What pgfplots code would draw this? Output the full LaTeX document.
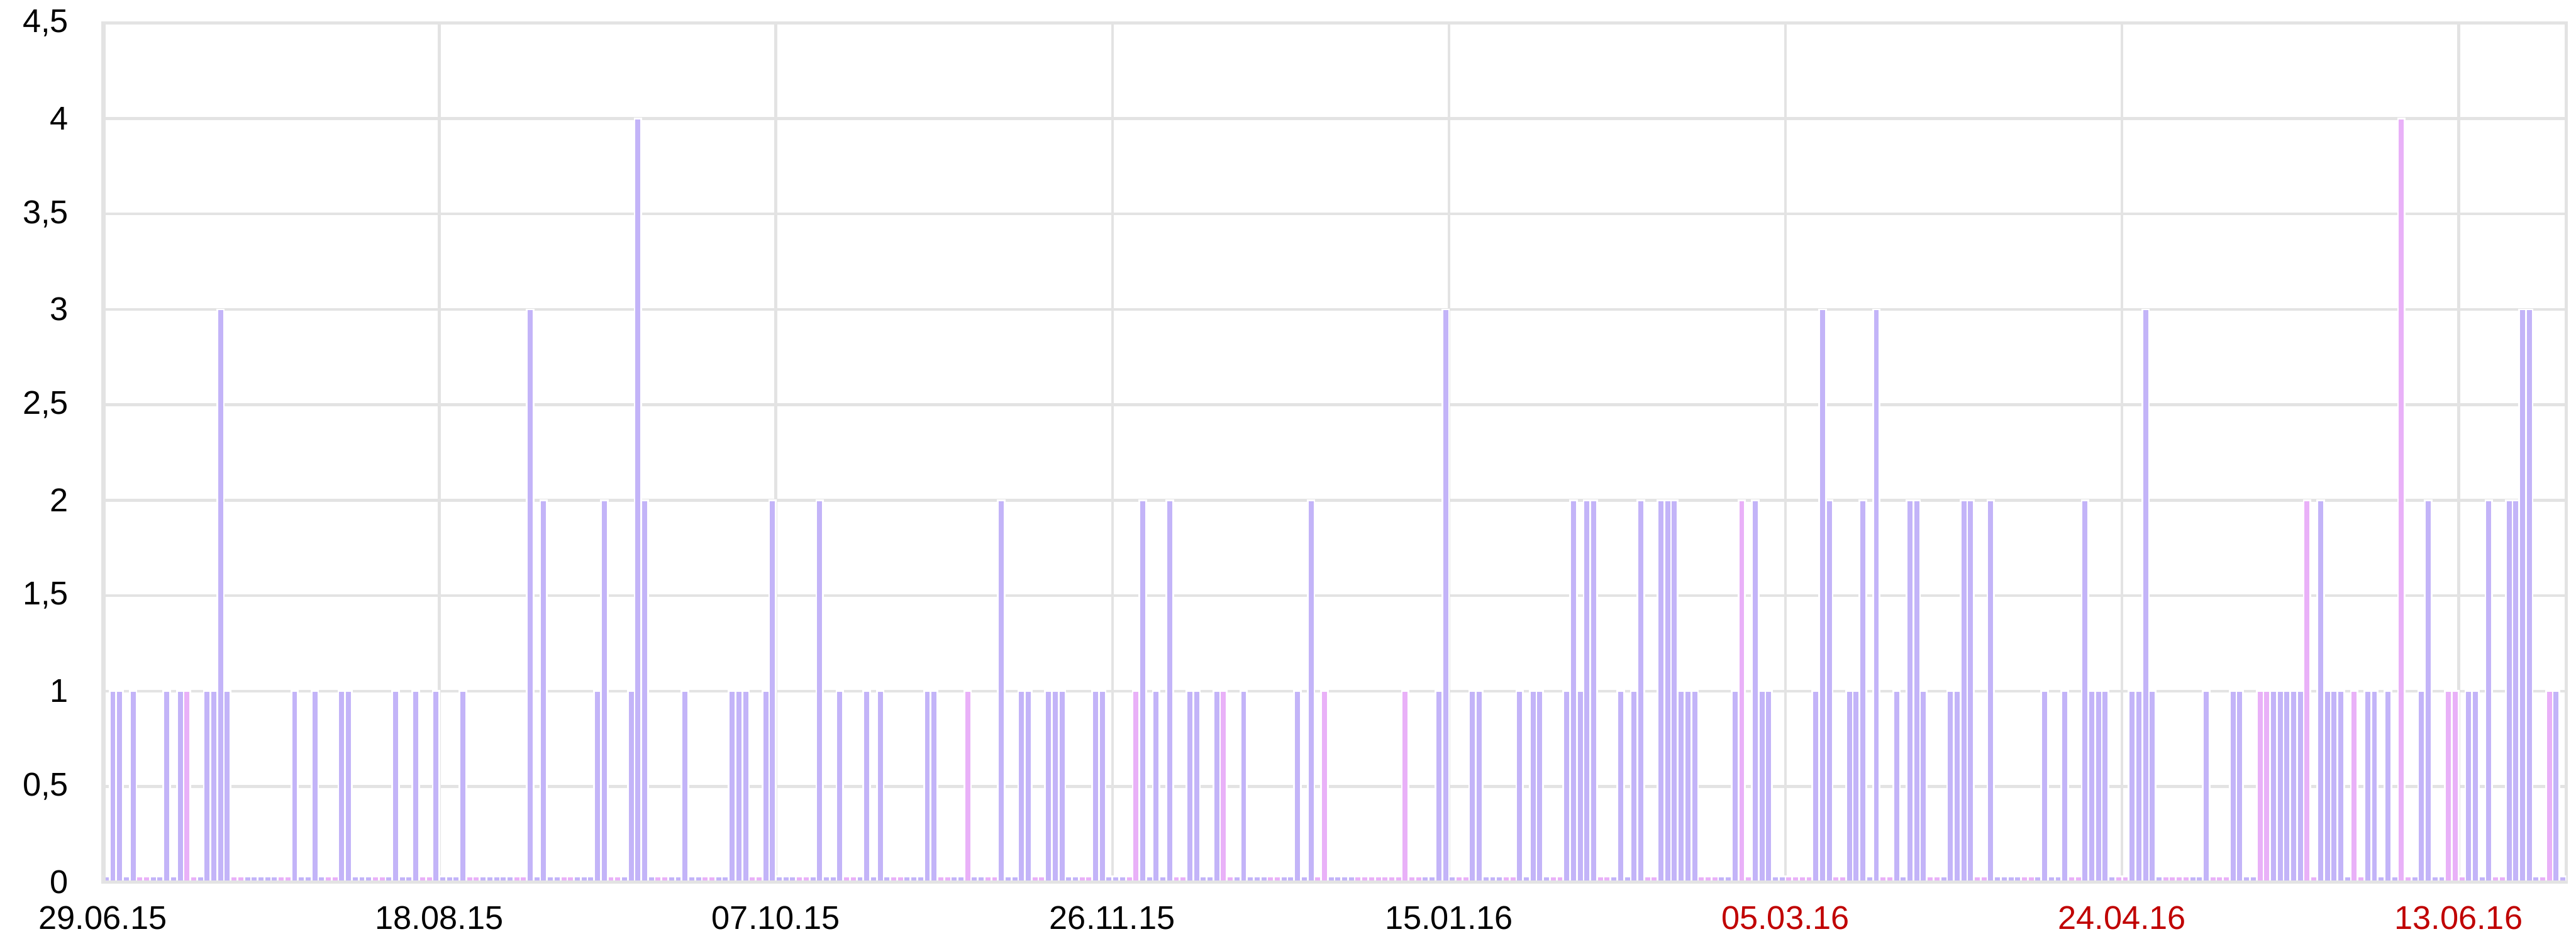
\documentclass[border=0pt]{standalone}
\usepackage{fontspec}
\setmainfont{Liberation Sans}
\usepackage{pgfplots}
\usepackage{pgfplotstable}
\pgfplotsset{compat=1.18}
\definecolor{barlav}{RGB}{195,180,248}
\definecolor{barpink}{RGB}{233,177,248}
\definecolor{gridgray}{RGB}{227,227,227}
\definecolor{tickred}{RGB}{192,0,0}

% working days: day index (0 = 29.06.15), value
\pgfplotstableread[row sep=\\]{
d v\\
0 0\\ 1 1\\ 2 1\\ 3 0\\ 4 1\\
7 0\\ 8 0\\ 9 1\\ 10 0\\ 11 1\\
14 0\\ 15 1\\ 16 1\\ 17 3\\ 18 1\\
21 0\\ 22 0\\ 23 0\\ 24 0\\ 25 0\\
28 1\\ 29 0\\ 30 0\\ 31 1\\ 32 0\\
35 1\\ 36 1\\ 37 0\\ 38 0\\ 39 0\\
42 0\\ 43 1\\ 44 0\\ 45 0\\ 46 1\\
49 1\\ 50 0\\ 51 0\\ 52 0\\ 53 1\\
56 0\\ 57 0\\ 58 0\\ 59 0\\ 60 0\\
63 3\\ 64 0\\ 65 2\\ 66 0\\ 67 0\\
70 0\\ 71 0\\ 72 0\\ 73 1\\ 74 2\\
77 0\\ 78 1\\ 79 4\\ 80 2\\ 81 0\\
84 0\\ 85 0\\ 86 1\\ 87 0\\ 88 0\\
91 0\\ 92 0\\ 93 1\\ 94 1\\ 95 1\\
98 1\\ 99 2\\ 100 0\\ 101 0\\ 102 0\\
105 0\\ 106 2\\ 107 0\\ 108 0\\ 109 1\\
112 0\\ 113 1\\ 114 0\\ 115 1\\ 116 0\\
119 0\\ 120 0\\ 121 0\\ 122 1\\ 123 1\\
126 0\\ 127 0\\ 129 0\\ 130 0\\
133 2\\ 134 0\\ 135 0\\ 136 1\\ 137 1\\
140 1\\ 141 1\\ 142 1\\ 143 0\\ 144 0\\
147 1\\ 148 1\\ 149 0\\ 150 0\\ 151 0\\
154 2\\ 155 0\\ 156 1\\ 157 0\\ 158 2\\
161 1\\ 162 1\\ 163 0\\ 164 0\\ 165 1\\
168 0\\ 169 1\\ 170 0\\ 171 0\\ 172 0\\
175 0\\ 176 0\\ 177 1\\ 178 0\\ 179 2\\
182 0\\ 183 0\\ 184 0\\ 185 0\\
196 0\\ 197 0\\ 198 1\\ 199 3\\ 200 0\\
203 1\\ 204 1\\ 205 0\\ 206 0\\ 207 0\\
210 1\\ 211 0\\ 212 1\\ 213 1\\ 214 0\\
217 1\\ 218 2\\ 219 1\\ 220 2\\ 221 2\\
224 0\\ 225 1\\ 226 0\\ 227 1\\ 228 2\\
231 2\\ 232 2\\ 233 2\\ 234 1\\ 235 1\\ 236 1\\
240 0\\ 241 0\\ 242 1\\
245 2\\ 246 1\\ 247 1\\ 248 0\\ 249 0\\
254 1\\ 255 3\\ 256 2\\
259 1\\ 260 1\\ 261 2\\ 262 0\\ 263 3\\
266 1\\ 267 0\\ 268 2\\ 269 2\\ 270 1\\
273 0\\ 274 1\\ 275 1\\ 276 2\\ 277 2\\
280 2\\ 281 0\\ 282 0\\ 283 0\\ 284 0\\
287 0\\ 288 1\\ 289 0\\ 290 0\\ 291 1\\
294 2\\ 295 1\\ 296 1\\ 297 1\\ 298 0\\
301 1\\ 302 1\\ 303 3\\ 304 1\\ 305 0\\
310 0\\ 311 0\\ 312 1\\
316 1\\ 317 1\\ 318 0\\ 319 0\\
322 1\\ 323 1\\ 324 1\\ 325 1\\ 326 1\\
329 2\\ 330 1\\ 331 1\\ 332 1\\ 333 0\\
336 1\\ 337 1\\ 338 0\\ 339 1\\ 340 0\\
343 0\\ 344 1\\ 345 2\\ 346 0\\ 347 0\\
351 1\\ 352 1\\ 353 0\\ 354 2\\
357 2\\ 358 2\\ 359 3\\ 360 3\\ 361 0\\
364 1\\ 365 0\\
}\workdays

% non-working days (weekends and holidays)
\pgfplotstableread[row sep=\\]{
d v\\
5 0\\ 6 0\\ 12 1\\ 13 0\\ 19 0\\ 20 0\\ 26 0\\ 27 0\\ 33 0\\ 34 0\\
40 0\\ 41 0\\ 47 0\\ 48 0\\ 54 0\\ 55 0\\ 61 0\\ 62 0\\ 68 0\\ 69 0\\
75 0\\ 76 0\\ 82 0\\ 83 0\\ 89 0\\ 90 0\\ 96 0\\ 97 0\\ 103 0\\ 104 0\\
110 0\\ 111 0\\ 117 0\\ 118 0\\ 124 0\\ 125 0\\ 128 1\\ 131 0\\ 132 0\\
138 0\\ 139 0\\ 145 0\\ 146 0\\ 152 0\\ 153 1\\ 159 0\\ 160 0\\
166 1\\ 167 0\\ 173 0\\ 174 0\\ 180 0\\ 181 1\\
186 0\\ 187 0\\ 188 0\\ 189 0\\ 190 0\\ 191 0\\ 192 0\\ 193 1\\ 194 0\\ 195 0\\
201 0\\ 202 0\\ 208 0\\ 209 0\\ 215 0\\ 216 0\\ 222 0\\ 223 0\\ 229 0\\ 230 0\\
237 0\\ 238 0\\ 239 0\\ 243 2\\ 244 0\\ 250 0\\ 251 0\\ 252 0\\ 253 0\\
257 0\\ 258 0\\ 264 0\\ 265 0\\ 271 0\\ 272 0\\ 278 0\\ 279 0\\
285 0\\ 286 0\\ 292 0\\ 293 0\\ 299 0\\ 300 0\\
306 0\\ 307 0\\ 308 0\\ 309 0\\ 313 0\\ 314 0\\ 315 0\\
320 1\\ 321 1\\ 327 2\\ 328 0\\ 334 1\\ 335 0\\ 341 4\\ 342 0\\
348 1\\ 349 1\\ 350 0\\ 355 0\\ 356 0\\ 362 0\\ 363 1\\
}\holidays

\begin{document}
\begin{tikzpicture}
\path[use as bounding box] (-17.8pt,-9.8pt) rectangle (428.2pt,152.7pt);
\begin{axis}[
  scale only axis,
  width=426.5pt, height=148.7pt,
  xmin=-0.5, xmax=365.5,
  ymin=0, ymax=4.5,
  xtick={-0.5,49.5,99.5,149.5,199.5,249.5,299.5,349.5},
  xticklabels={29.06.15,18.08.15,07.10.15,26.11.15,15.01.16,\textcolor{tickred}{05.03.16},\textcolor{tickred}{24.04.16},\textcolor{tickred}{13.06.16}},
  ytick={0,0.5,1,1.5,2,2.5,3,3.5,4,4.5},
  yticklabels={0,{0,5},1,{1,5},2,{2,5},3,{3,5},4,{4,5}},
  grid=major,
  major grid style={gridgray, line width=0.5pt},
  axis line style={gridgray, line width=0.5pt},
  major tick length=0pt,
  tick label style={font=\fontsize{5.7}{6.8}\selectfont, text=black},
  yticklabel style={xshift=-2.4pt},
  xticklabel style={yshift=-0.7pt},
]
\addplot[ybar, bar shift=0pt, bar width=1, fill=barlav, draw=white, line width=0.3pt]
  table[x=d, y expr={max(\thisrow{v},0.03)}] {\workdays};
\addplot[ybar, bar shift=0pt, bar width=1, fill=barpink, draw=white, line width=0.3pt]
  table[x=d, y expr={max(\thisrow{v},0.03)}] {\holidays};
\draw[gridgray, line width=0.5pt] (rel axis cs:0,0) -- (rel axis cs:1,0);
\draw[gridgray, line width=0.9pt] (rel axis cs:0,0) -- (rel axis cs:0,1);
\end{axis}
\end{tikzpicture}
\end{document}
